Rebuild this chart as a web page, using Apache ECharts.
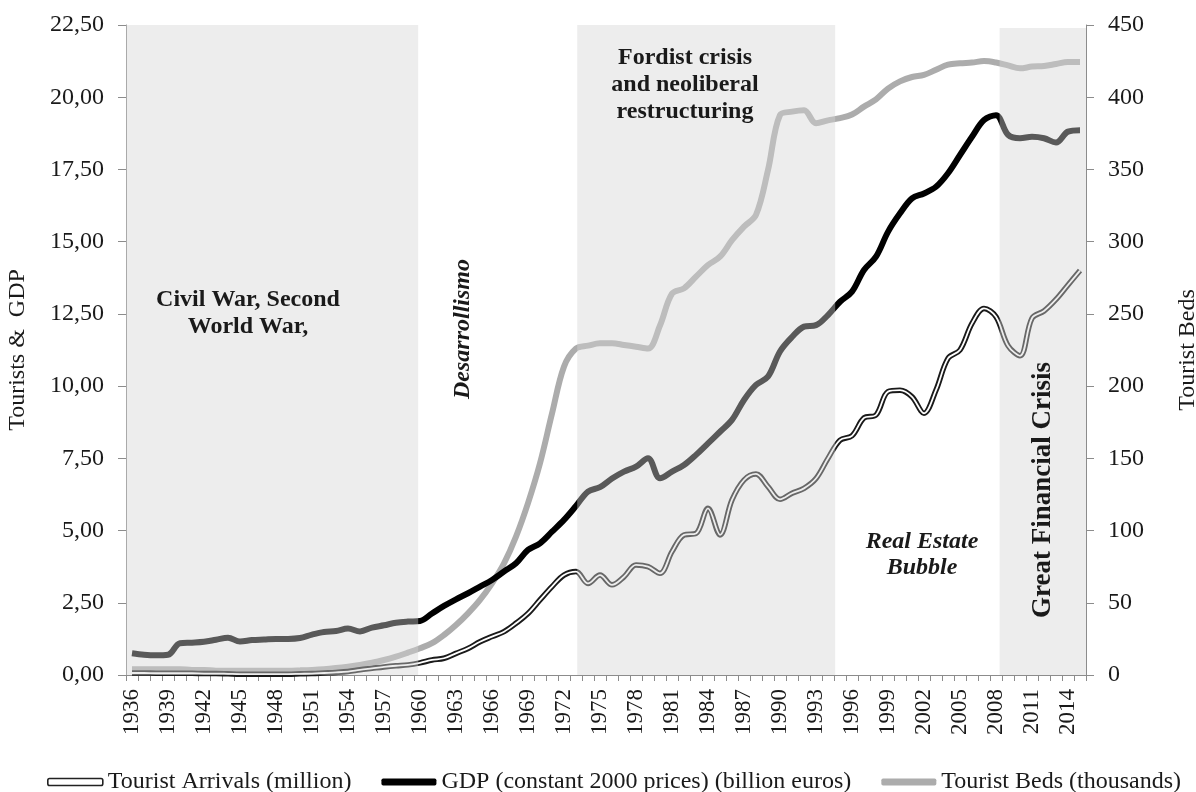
<!DOCTYPE html>
<html>
<head>
<meta charset="utf-8">
<script src="https://cdn.jsdelivr.net/npm/echarts@6/dist/echarts.min.js"></script>
<style>
html,body{margin:0;padding:0;background:#fff;overflow:hidden;}
#chart{width:1196px;height:792px;}
</style>
</head>
<body>
<div id="chart"></div>
<script>
// ---------- data ----------
var years = [];
for (var y = 1936; y <= 2015; y++) years.push(String(y));

var touristArrivals = [
  0.07,0.07,0.06,0.06,0.06,0.06,0.05,0.05,0.04,0.03,
  0.03,0.03,0.03,0.03,0.04,0.05,0.07,0.09,0.12,0.18,
  0.23,0.28,0.32,0.35,0.42,0.52,0.58,0.75,0.92,1.15,
  1.33,1.50,1.79,2.13,2.60,3.06,3.46,3.58,3.17,3.46,
  3.12,3.40,3.81,3.75,3.52,4.27,4.85,4.90,5.77,4.85,
  6.06,6.75,6.96,6.52,6.08,6.29,6.46,6.80,7.50,8.13,
  8.28,8.90,9.00,9.81,9.86,9.63,9.06,9.86,10.96,11.25,
  12.17,12.69,12.40,11.40,11.05,12.35,12.60,13.00,13.50,14.00
];

var gdp = [
  0.75,0.70,0.68,0.70,1.10,1.12,1.15,1.22,1.29,1.16,
  1.21,1.23,1.25,1.25,1.28,1.40,1.49,1.52,1.61,1.51,
  1.64,1.72,1.81,1.85,1.87,2.13,2.39,2.62,2.83,3.06,
  3.29,3.58,3.87,4.33,4.56,4.96,5.37,5.85,6.35,6.50,
  6.80,7.04,7.21,7.50,6.81,7.04,7.27,7.62,8.02,8.42,
  8.83,9.52,10.04,10.33,11.20,11.70,12.06,12.11,12.46,12.92,
  13.27,14.02,14.48,15.34,15.98,16.50,16.67,16.90,17.37,18.00,
  18.63,19.21,19.38,18.70,18.58,18.63,18.58,18.43,18.81,18.86
];

var touristBeds = [
  4,4,4,4,4,3.5,3.5,3,3,3,
  3,3,3,3,3.2,3.5,4,4.8,5.8,7,
  8.5,10.4,12.7,15.5,18.5,22,27.7,34.6,42.7,52,
  63.5,77.3,95.8,119,146.6,181,213.5,226,228,229.6,
  229.6,228.5,227.3,226,242,264,267.7,275.8,283.8,289.6,
  301,310.4,318.5,349.6,387.7,390,391,382,384,385.5,
  388,393.5,398.5,406,411,414,415.5,419,422.5,423.5,
  424,425,424,422,420,421.2,421.6,423,424.4,424.4
];

// shaded periods: [start year, end year, top value on left axis]
var shadePeriods = [[1935.5, 1959.85, 22.5], [1973.1, 1994.6, 22.74], [2008.3, 2015.5, 22.4]];

var leftTicks = { min: 0, max: 22.5, interval: 2.5 };
var rightTicks = { min: 0, max: 450, interval: 50 };

var seriesNames = ['Tourist Arrivals (million)', 'GDP (constant 2000 prices) (billion euros)', 'Tourist Beds (thousands)'];

// ---------- chart ----------
var FONT = '"Liberation Serif", "Times New Roman", serif';
var TXT = '#1a1a1a';
var AX = '#8c8c8c';

var chart = echarts.init(document.getElementById('chart'), null, { renderer: 'canvas' });

function label(text, x, y, font, rot) {
  return { type: 'text', x: x, y: y, rotation: rot || 0, z: 50,
    style: { text: text, font: font, fill: TXT, textAlign: 'center', textVerticalAlign: 'middle' } };
}
var B24 = 'bold 24px ' + FONT;
var BI24 = 'italic bold 24px ' + FONT;

var option = {
  backgroundColor: '#ffffff',
  animation: false,
  textStyle: { fontFamily: FONT, color: TXT },
  grid: { left: 126, right: 110, top: 25, bottom: 117, containLabel: false, outerBoundsMode: 'none' },
  legend: {
    left: 42, top: 765,
    itemWidth: 55, itemHeight: 7, itemGap: 30,
    textStyle: { fontFamily: FONT, fontSize: 24, color: TXT },
    selectedMode: false,
    data: [
      { name: seriesNames[0], icon: 'roundRect', itemStyle: { color: '#ffffff', borderColor: '#222222', borderWidth: 1.6 } },
      { name: seriesNames[1], icon: 'roundRect', itemStyle: { color: '#000000', borderWidth: 0 } },
      { name: seriesNames[2], icon: 'roundRect', itemStyle: { color: '#acacac', borderWidth: 0 } }
    ]
  },
  xAxis: [
    {
      type: 'category', data: years, boundaryGap: true,
      axisLine: { lineStyle: { color: AX, width: 1 } },
      axisTick: { show: true, interval: 0, alignWithLabel: false, length: 6, lineStyle: { color: AX } },
      axisLabel: { interval: 2, rotate: 90, margin: 14, fontFamily: FONT, fontSize: 23, color: TXT },
      splitLine: { show: false }
    },
    {
      type: 'value', min: 1935.5, max: 2015.5, show: false
    }
  ],
  yAxis: [
    {
      type: 'value', min: leftTicks.min, max: leftTicks.max, interval: leftTicks.interval,
      name: 'Tourists &  GDP', nameLocation: 'middle', nameRotate: 90, nameGap: 96,
      nameTextStyle: { fontFamily: FONT, fontSize: 24, color: TXT },
      axisLine: { show: true, lineStyle: { color: AX } },
      axisTick: { show: true, length: 8, lineStyle: { color: AX } },
      axisLabel: { margin: 22, fontFamily: FONT, fontSize: 24, color: TXT,
        formatter: function (v) { return v.toFixed(2).replace('.', ','); } },
      splitLine: { show: false }
    },
    {
      type: 'value', min: rightTicks.min, max: rightTicks.max, interval: rightTicks.interval,
      position: 'right',
      name: 'Tourist Beds', nameLocation: 'middle', nameRotate: 90, nameGap: 90,
      nameTextStyle: { fontFamily: FONT, fontSize: 24, color: TXT },
      axisLine: { show: true, lineStyle: { color: AX } },
      axisTick: { show: true, length: 8, lineStyle: { color: AX } },
      axisLabel: { margin: 22, fontFamily: FONT, fontSize: 24, color: TXT },
      splitLine: { show: false }
    }
  ],
  graphic: [
    label('Civil War, Second', 248, 300, B24),
    label('World War,', 248, 327, B24),
    label('Desarrollismo', 463, 329, BI24, Math.PI / 2),
    label('Fordist crisis', 685, 58, B24),
    label('and neoliberal', 685, 85, B24),
    label('restructuring', 685, 112, B24),
    label('Real Estate', 922, 542, BI24),
    label('Bubble', 922, 568, BI24),
    label('Great Financial Crisis', 1043, 490, 'bold 27px ' + FONT, Math.PI / 2)
  ],
  series: [
    {
      name: seriesNames[2], type: 'line', data: touristBeds, yAxisIndex: 1, xAxisIndex: 0,
      smooth: 0.35, showSymbol: false, symbol: 'none', z: 2,
      lineStyle: { color: '#acacac', width: 6 }, itemStyle: { color: '#acacac' }
    },
    {
      name: seriesNames[1], type: 'line', data: gdp, yAxisIndex: 0, xAxisIndex: 0,
      smooth: 0.35, showSymbol: false, symbol: 'none', z: 3,
      lineStyle: { color: '#000000', width: 6 }, itemStyle: { color: '#000000' }
    },
    {
      name: seriesNames[0], type: 'line', data: touristArrivals, yAxisIndex: 0, xAxisIndex: 0,
      smooth: 0.35, showSymbol: false, symbol: 'none', z: 4,
      lineStyle: { color: '#1a1a1a', width: 5.5 }, itemStyle: { color: '#1a1a1a' }
    },
    {
      name: 'arrivals-inner', type: 'line', data: touristArrivals, yAxisIndex: 0, xAxisIndex: 0,
      smooth: 0.35, showSymbol: false, symbol: 'none', z: 5,
      lineStyle: { color: '#ffffff', width: 1.8 }, itemStyle: { color: '#ffffff' }
    },
    {
      name: 'shading', type: 'line', data: [], xAxisIndex: 1, yAxisIndex: 0, z: 10, clip: false,
      markArea: {
        silent: true, z: 10,
        itemStyle: { color: 'rgba(212,212,212,0.42)' },
        data: shadePeriods.map(function (p) {
          return [{ xAxis: p[0], yAxis: 0 }, { xAxis: p[1], yAxis: p[2] }];
        })
      }
    }
  ]
};
chart.setOption(option);
</script>
</body>
</html>
